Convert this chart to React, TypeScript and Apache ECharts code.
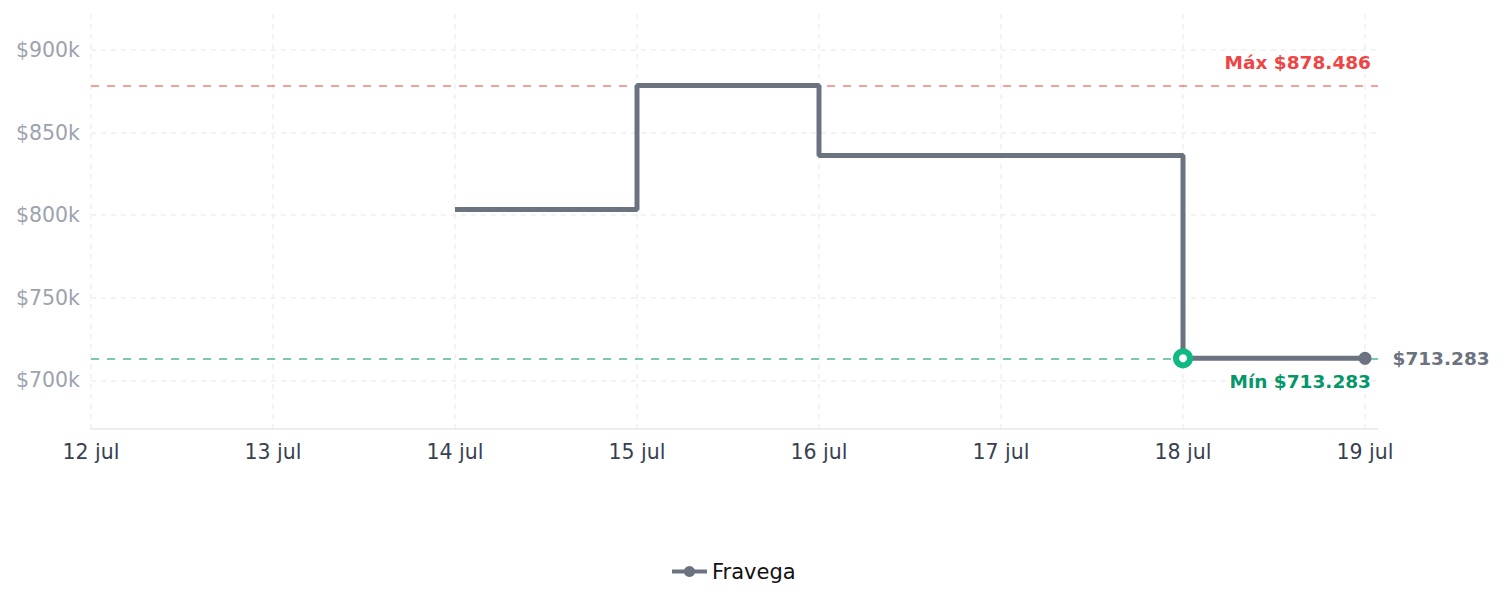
import React, { useEffect, useRef } from "react";
import * as echarts from "echarts";

const seriesName = "Fravega";
const dayLabels = [12, 13, 14, 15, 16, 17, 18, 19];
const priceDays = [14, 15, 16, 17, 18, 19];
const prices = [803399, 878486, 836099, 836099, 713283, 713283];
const yTicks = [700000, 750000, 800000, 850000, 900000];

const fmt = (v: number) => "$" + String(Math.round(v)).replace(/\B(?=(\d{3})+(?!\d))/g, ".");

export default function App() {
  const ref = useRef<HTMLDivElement>(null);
  useEffect(() => {
    document.body.style.margin = "0";
    const chart = echarts.init(ref.current!, null, { renderer: "svg" });
    const maxV = Math.max(...prices);
    const minV = Math.min(...prices);
    const minIdx = prices.indexOf(minV);
    const lastIdx = prices.length - 1;
    const font = "DejaVu Sans, sans-serif";
    const gridLine = { color: "#f0f0f0", type: [5, 5], width: 1.5 };
    chart.setOption({
      animation: false,
      grid: { left: 91, right: 127, top: 13, bottom: 178, containLabel: false },
      legend: {
        bottom: 20,
        left: 665,
        itemWidth: 35,
        itemHeight: 14,
        lineStyle: { width: 4 },
        textStyle: { fontSize: 21, color: "#111", fontFamily: font },
        data: [seriesName],
      },
      xAxis: {
        type: "value",
        min: dayLabels[0],
        max: dayLabels[dayLabels.length - 1] + 0.0714,
        interval: 1,
        axisLine: { show: true, lineStyle: { color: "#e5e7eb", width: 1.5 } },
        axisTick: { show: false },
        axisLabel: {
          color: "#374151",
          fontSize: 20.5,
          fontFamily: font,
          margin: 12,
          showMaxLabel: false,
          formatter: (v: number) => (dayLabels.includes(v) ? `${v} jul` : ""),
        },
        splitLine: { show: false },
      },
      yAxis: {
        type: "value",
        min: Math.round(minV * 0.94),
        max: Math.round(maxV * 1.05),
        axisLine: { show: false },
        axisTick: { show: false },
        axisLabel: {
          color: "#9ca3af",
          fontSize: 20.5,
          fontFamily: font,
          margin: 11,
          showMinLabel: false,
          showMaxLabel: false,
          formatter: (v: number) => (yTicks.includes(v) ? `$${v / 1000}k` : ""),
        },
        splitLine: { show: false },
      },
      series: [
        {
          name: "grid",
          type: "line",
          data: [],
          z: 0,
          silent: true,
          markLine: {
            silent: true,
            z: 0,
            symbol: "none",
            label: { show: false },
            lineStyle: gridLine,
            data: [
              ...yTicks.map((v) => ({ yAxis: v })),
              ...dayLabels.map((d) => ({ xAxis: d })),
            ],
          },
        },
        {
          name: seriesName,
          type: "line",
          step: "end",
          z: 3,
          data: priceDays.map((d, i) => [d, prices[i]]),
          symbol: "circle",
          symbolSize: 12,
          showSymbol: false,
          color: "#6b7280",
          lineStyle: { color: "#6b7280", width: 5 },
          markLine: {
            silent: true,
            z: 1,
            symbol: "none",
            data: [
              {
                yAxis: maxV,
                lineStyle: { color: "rgba(239,68,68,0.7)", type: [8, 8], width: 1.5 },
                label: {
                  show: true,
                  position: "insideEndTop",
                  formatter: "Máx " + fmt(maxV),
                  color: "#ef4444",
                  fontWeight: "bold",
                  fontSize: 18.5,
                  fontFamily: font,
                  distance: [7, 14],
                },
              },
              {
                yAxis: minV,
                lineStyle: { color: "rgba(5,150,105,0.7)", type: [8, 8], width: 1.5 },
                label: {
                  show: true,
                  position: "insideEndBottom",
                  formatter: "Mín " + fmt(minV),
                  color: "#059669",
                  fontWeight: "bold",
                  fontSize: 18.5,
                  fontFamily: font,
                  distance: [7, 14],
                },
              },
            ],
          },
          markPoint: {
            silent: true,
            z: 6,
            data: [
              {
                coord: [priceDays[minIdx], minV],
                symbol: "circle",
                symbolSize: 14,
                itemStyle: { color: "#ffffff", borderColor: "#10b981", borderWidth: 6 },
                label: { show: false },
              },
              {
                coord: [priceDays[lastIdx], prices[lastIdx]],
                symbol: "circle",
                symbolSize: 13,
                itemStyle: { color: "#6b7280" },
                label: {
                  show: true,
                  position: "right",
                  distance: 21,
                  formatter: fmt(prices[lastIdx]),
                  color: "#6b7280",
                  fontWeight: "bold",
                  fontSize: 18.5,
                  fontFamily: font,
                },
              },
            ],
          },
        },
      ],
    });
    return () => chart.dispose();
  }, []);
  return <div ref={ref} style={{ width: 1505, height: 607 }} />;
}
